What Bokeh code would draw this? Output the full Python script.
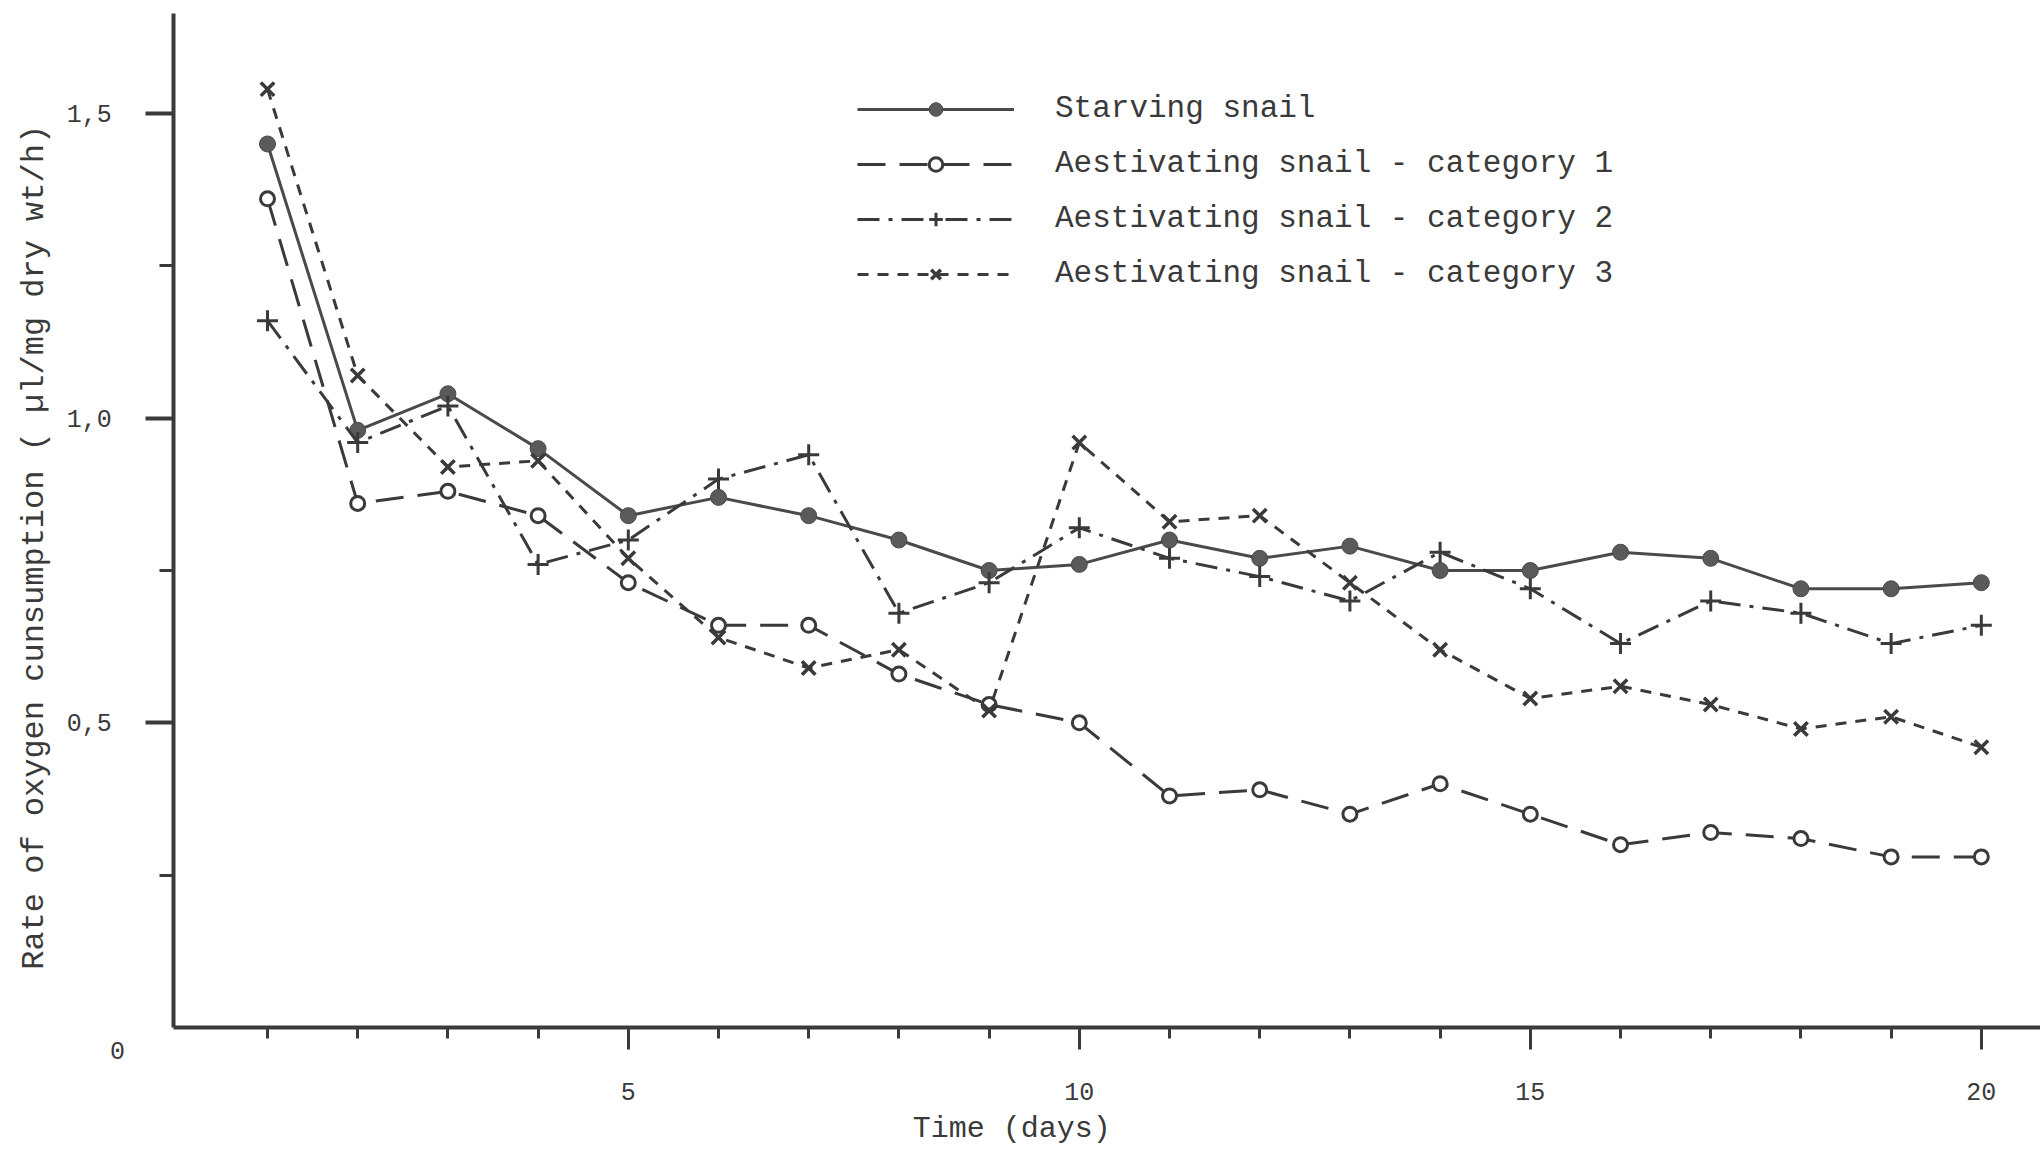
import math
from bokeh.plotting import figure
from bokeh.models import (FixedTicker, CustomJSTickFormatter, Legend, LegendItem, Label, Range1d)
from bokeh.embed import file_html
from bokeh.resources import INLINE

days = list(range(1, 21))
starving = [1.45, 0.98, 1.04, 0.95, 0.84, 0.87, 0.84, 0.80, 0.75, 0.76,
            0.80, 0.77, 0.79, 0.75, 0.75, 0.78, 0.77, 0.72, 0.72, 0.73]
cat1 = [1.36, 0.86, 0.88, 0.84, 0.73, 0.66, 0.66, 0.58, 0.53, 0.50,
        0.38, 0.39, 0.35, 0.40, 0.35, 0.30, 0.32, 0.31, 0.28, 0.28]
cat2 = [1.16, 0.96, 1.02, 0.76, 0.80, 0.90, 0.94, 0.68, 0.73, 0.82,
        0.77, 0.74, 0.70, 0.78, 0.72, 0.63, 0.70, 0.68, 0.63, 0.66]
cat3 = [1.54, 1.07, 0.92, 0.93, 0.77, 0.64, 0.59, 0.62, 0.52, 0.96,
        0.83, 0.84, 0.73, 0.62, 0.54, 0.56, 0.53, 0.49, 0.51, 0.46]

series_names = ["Starving snail",
                "Aestivating snail - category 1",
                "Aestivating snail - category 2",
                "Aestivating snail - category 3"]
x_major_ticks = [5, 10, 15, 20]
y_major_ticks = [0.5, 1.0, 1.5]
y_minor_ticks = [0.25, 0.75, 1.25]
x_title = "Time  (days)"
y_title = "Rate of oxygen cunsumption ( \u00b5l/mg dry wt/h)"
origin_label = "0"

FONT = "Liberation Mono"
INK = "#3a3a3a"

W, H = 2040, 1150
X0, X1 = -1.96, 20.656
Y0, Y1 = -0.2019, 1.6855
AX_X = -0.04      # where the y axis stands
AX_TOP = 1.664    # top end of the y axis line

p = figure(width=W, height=H, output_backend="svg", toolbar_location=None,
           x_range=Range1d(X0, X1), y_range=Range1d(Y0, Y1),
           min_border_left=0, min_border_right=0, min_border_top=0,
           min_border_bottom=0)
p.outline_line_color = None
p.xgrid.grid_line_color = None
p.ygrid.grid_line_color = None
p.background_fill_color = "white"
p.border_fill_color = "white"

# axes (placed inside the frame at the origin)
xa = p.xaxis[0]
xa.fixed_location = 0
xa.bounds = (AX_X, X1)
xa.ticker = FixedTicker(ticks=x_major_ticks, minor_ticks=days)
xa.axis_line_width = 4
xa.axis_line_color = INK
xa.major_tick_line_width = 3
xa.major_tick_line_color = INK
xa.minor_tick_line_width = 3
xa.minor_tick_line_color = INK
xa.major_tick_out = 22
xa.major_tick_in = 0
xa.minor_tick_out = 11
xa.minor_tick_in = 0
xa.major_label_standoff = 34
xa.major_label_text_font = FONT
xa.major_label_text_font_size = "25px"
xa.major_label_text_color = INK

ya = p.yaxis[0]
ya.fixed_location = AX_X
ya.bounds = (0, AX_TOP)
ya.ticker = FixedTicker(ticks=y_major_ticks, minor_ticks=y_minor_ticks)
ya.formatter = CustomJSTickFormatter(code="return tick.toFixed(1).replace('.', ',');")
ya.axis_line_width = 4
ya.axis_line_color = INK
ya.major_tick_line_width = 4
ya.major_tick_line_color = INK
ya.minor_tick_line_width = 3
ya.minor_tick_line_color = INK
ya.major_tick_out = 28
ya.major_tick_in = 0
ya.minor_tick_out = 14
ya.minor_tick_in = 0
ya.major_label_standoff = 34
ya.major_label_text_font = FONT
ya.major_label_text_font_size = "25px"
ya.major_label_text_color = INK

# series
r0l = p.line(days, starving, line_color="#4a4a4a", line_width=3)
r0m = p.scatter(days, starving, marker="circle", size=16, fill_color="#5a5a5a",
                line_color="#4a4a4a", line_width=1)
r1l = p.line(days, cat1, line_color=INK, line_width=3, line_dash="28 14")
r1m = p.scatter(days, cat1, marker="circle", size=14, fill_color="white",
                line_color=INK, line_width=3)
r2l = p.line(days, cat2, line_color=INK, line_width=3, line_dash="22 9 4 9")
r2m = p.scatter(days, cat2, marker="cross", size=21, line_color=INK, line_width=3)
r3l = p.line(days, cat3, line_color=INK, line_width=3, line_dash="11 9")
r3m = p.scatter(days, cat3, marker="x", size=19, line_color=INK, line_width=3.5)

legend = Legend(items=[
    LegendItem(label=series_names[0], renderers=[r0l, r0m]),
    LegendItem(label=series_names[1], renderers=[r1l, r1m]),
    LegendItem(label=series_names[2], renderers=[r2l, r2m]),
    LegendItem(label=series_names[3], renderers=[r3l, r3m]),
], location=(857, 859))
legend.glyph_width = 157
legend.glyph_height = 34
legend.label_height = 34
legend.spacing = 20
legend.label_standoff = 41
legend.padding = 0
legend.margin = 0
legend.border_line_alpha = 0
legend.background_fill_alpha = 0
legend.label_text_font = FONT
legend.label_text_font_size = "31px"
legend.label_text_color = INK
legend.label_text_baseline = "middle"
p.add_layout(legend)

# axis titles and the origin label
p.add_layout(Label(x=9.35, y=-0.166, text=x_title,
                   text_font=FONT, text_font_size="30px", text_color=INK,
                   text_align="center", text_baseline="middle"))
p.add_layout(Label(x=-1.583, y=0.788, text=y_title,
                   angle=math.pi / 2, text_font=FONT, text_font_size="32px",
                   text_color=INK, text_align="center", text_baseline="middle"))
p.add_layout(Label(x=-0.663, y=-0.038, text=origin_label,
                   text_font=FONT, text_font_size="25px", text_color=INK,
                   text_align="center", text_baseline="middle"))

open("out.html", "w").write(file_html(p, INLINE))
